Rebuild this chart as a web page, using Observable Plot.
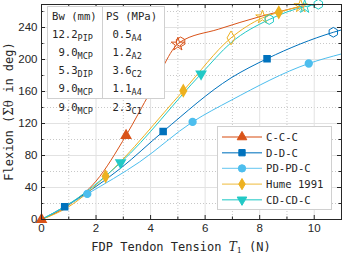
<!DOCTYPE html>
<html><head><meta charset="utf-8">
<script src="https://cdn.jsdelivr.net/npm/d3@7"></script>
<script src="https://cdn.jsdelivr.net/npm/@observablehq/plot@0.6"></script>
<style>body{margin:0;background:#fff}</style>
</head><body><div id="chart"></div>
<script>
// ---- data ----
const seriesNames = ["C-C-C", "D-D-C", "PD-PD-C", "Hume 1991", "CD-CD-C"];
const seriesColors = ["#D95319", "#0072BD", "#4DBEEE", "#EDB120", "#22C9C6"];
const seriesSymbols = ["triangle", "square", "circle", "diamond", "triangle"];
const seriesRotate = [0, 0, 0, 0, 180];

// curves
const cccX = [0, 1, 2, 3.1, 4, 5.05, 6.5, 8.05, 9.6];
const cccY = [0, 18, 48, 105, 160, 221, 238, 254, 267];
const ddcX = [0, 0.85, 2.9, 4.46, 6.95, 8.27, 10.7, 11];
const ddcY = [0, 16, 64, 110, 177, 201, 234, 237];
const pdX = [0, 1.68, 3.6, 5.54, 6.95, 9.8, 11];
const pdY = [0, 32, 72, 122, 149, 195, 207];
const humeX = [0, 1, 2.35, 5.2, 6.95, 8.1, 8.7, 9.55];
const humeY = [0, 16, 54, 161, 227, 252, 259, 267];
const cdX = [0, 0.85, 2.9, 5.85, 6.95, 8.35, 9.65, 10.15];
const cdY = [0, 16, 71, 182, 221, 250, 266, 269];

// filled markers
const cccMX = [0, 3.1], cccMY = [0, 105];
const ddcMX = [0.85, 4.46, 8.27], ddcMY = [16, 110, 201];
const pdMX = [1.68, 5.54, 9.8], pdMY = [32, 122, 195];
const humeMX = [2.35, 5.2, 8.7], humeMY = [54, 161, 259];
const cdMX = [2.9, 5.85], cdMY = [71, 182];

// open markers
const openSeries = ["C-C-C", "C-C-C", "D-D-C", "Hume 1991", "Hume 1991", "Hume 1991", "CD-CD-C", "CD-CD-C", "CD-CD-C"];
const openSymbol = ["star", "hexagon", "hexagon", "diamond", "star", "star", "hexagon", "star", "hexagon"];
const openX = [5.0, 5.1, 10.7, 6.95, 8.1, 9.5, 8.35, 9.65, 10.15];
const openY = [219, 222, 234, 227, 253, 267, 250, 266, 269];

// ticks
const xMajor = [0, 2, 4, 6, 8, 10];
const xMinor = [1, 3, 5, 7, 9];
const yMajor = [0, 40, 80, 120, 160, 200, 240];
const yMinor = [20, 60, 100, 140, 180, 220, 260];

// annotation table
const tblHead = ["Bw (mm)", "PS (MPa)"];
const bwVal = ["12.2", " 9.0", " 5.3", " 9.0", " 9.0"];
const bwSub = ["PIP", "MCP", "DIP", "MCP", "MCP"];
const psVal = [" 0.5", " 1.2", " 3.6", " 1.1", " 2.3"];
const psSub = ["A4", "A2", "C2", "A4", "C1"];

// ---- build tables ----
const curveXs = [cccX, ddcX, pdX, humeX, cdX], curveYs = [cccY, ddcY, pdY, humeY, cdY];
const lines = [];
curveXs.forEach((xs, i) => xs.forEach((x, j) => lines.push({s: seriesNames[i], x, y: curveYs[i][j]})));
const mxs = [cccMX, ddcMX, pdMX, humeMX, cdMX], mys = [cccMY, ddcMY, pdMY, humeMY, cdMY];
const marks = [];
mxs.forEach((xs, i) => xs.forEach((x, j) => marks.push({s: seriesNames[i], i, x, y: mys[i][j]})));
const opens = openX.map((x, k) => ({s: openSeries[k], sym: openSymbol[k], x, y: openY[k]}));

const W = 342, H = 254, mL = 41, mR = 1, mT = 4, mB = 35;
const pH = H - mT - mB;
const mono = "'DejaVu Sans Mono', monospace";
const sans = "'Liberation Sans', Arial, sans-serif";
const colorOf = s => seriesColors[seriesNames.indexOf(s)];

const chart = Plot.plot({
  width: W, height: H,
  marginLeft: mL, marginRight: mR, marginTop: mT, marginBottom: mB,
  x: {domain: [0, 11]},
  y: {domain: [0, 268.75]},
  style: {fontFamily: sans, fontSize: "11.5px", background: "#fff", color: "#262626"},
  marks: [
    Plot.ruleX(xMinor, {stroke: "#c8c8c8", strokeDasharray: "1,2"}),
    Plot.ruleY(yMinor, {stroke: "#c8c8c8", strokeDasharray: "1,2"}),
    Plot.ruleX(xMajor, {stroke: "#e2e2e2"}),
    Plot.ruleY(yMajor, {stroke: "#e2e2e2"}),
    Plot.line(lines, {x: "x", y: "y", z: "s", stroke: d => colorOf(d.s), strokeWidth: 1, curve: "monotone-x"}),
    Plot.dot(opens, {x: "x", y: "y", symbol: d => d.sym, r: 4.2, stroke: d => colorOf(d.s), fill: "white", fillOpacity: 0, strokeWidth: 1}),
    Plot.dot(marks, {x: "x", y: "y", symbol: d => seriesSymbols[d.i], rotate: d => seriesRotate[d.i], r: 3.4, fill: d => colorOf(d.s), stroke: d => colorOf(d.s)}),
    // inward ticks
    Plot.tickX(xMajor, {x: d => d, insetTop: pH - 4, stroke: "#262626"}),
    Plot.tickX(xMajor, {x: d => d, insetBottom: pH - 4, stroke: "#262626"}),
    Plot.tickX(xMinor, {x: d => d, insetTop: pH - 2.5, stroke: "#262626"}),
    Plot.tickX(xMinor, {x: d => d, insetBottom: pH - 2.5, stroke: "#262626"}),
    Plot.tickY(yMajor, {y: d => d, insetRight: (W - mL - mR) - 4, stroke: "#262626"}),
    Plot.tickY(yMajor, {y: d => d, insetLeft: (W - mL - mR) - 4, stroke: "#262626"}),
    Plot.tickY(yMinor, {y: d => d, insetRight: (W - mL - mR) - 2.5, stroke: "#262626"}),
    Plot.tickY(yMinor, {y: d => d, insetLeft: (W - mL - mR) - 2.5, stroke: "#262626"}),
    Plot.frame({stroke: "#262626"}),
    Plot.axisX(xMajor, {tickSize: 0, tickPadding: 4, label: null, fontSize: 11.5}),
    Plot.axisY(yMajor, {tickSize: 0, tickPadding: 4, label: null, fontSize: 11.5})
  ]
});
document.getElementById("chart").appendChild(chart);

const svg = d3.select(chart);
// axis labels
const xl = svg.append("text").attr("x", 181).attr("y", 251).attr("text-anchor", "middle")
  .style("font-family", mono).style("font-size", "12px").attr("fill", "#262626");
xl.append("tspan").text("FDP Tendon Tension ");
xl.append("tspan").text("T").style("font-family", "'DejaVu Serif', serif").style("font-style", "italic");
xl.append("tspan").text("1").style("font-family", "'DejaVu Serif', serif").style("font-size", "8px").attr("dy", 2);
xl.append("tspan").text(" (N)").attr("dy", -2);

const yl = svg.append("text").attr("transform", `translate(13,${mT + pH / 2}) rotate(-90)`).attr("text-anchor", "middle")
  .style("font-family", mono).style("font-size", "12px").attr("fill", "#262626");
yl.append("tspan").text("Flexion (");
yl.append("tspan").text("Σθ").style("font-family", "'DejaVu Serif', serif");
yl.append("tspan").text(" in deg)");

// annotation boxes
const tb = svg.append("g").attr("text-anchor", "start").style("font-family", mono).style("font-size", "10.6px").attr("fill", "#262626").style("white-space", "pre");
tb.append("rect").attr("x", 47.5).attr("y", 6.5).attr("width", 55).attr("height", 92).attr("fill", "white").attr("stroke", "#d0d0d0");
tb.append("rect").attr("x", 102.5).attr("y", 6.5).attr("width", 62).attr("height", 92).attr("fill", "white").attr("stroke", "#d0d0d0");
tb.append("text").attr("x", 52).attr("y", 20).text(tblHead[0]);
tb.append("text").attr("x", 106).attr("y", 20).text(tblHead[1]);
bwVal.forEach((v, k) => {
  const yb = 37.5 + k * 18.3;
  const t = tb.append("text").attr("x", 52).attr("y", yb);
  t.append("tspan").text(v);
  t.append("tspan").text(bwSub[k]).attr("dy", 3).style("font-size", "8.5px");
  const t2 = tb.append("text").attr("x", 106).attr("y", yb);
  t2.append("tspan").text(psVal[k]);
  t2.append("tspan").text(psSub[k]).attr("dy", 3).style("font-size", "8.5px");
});

// legend
const lg = svg.append("g").attr("text-anchor", "start").style("font-family", mono).style("font-size", "10.6px").attr("fill", "#262626");
lg.append("rect").attr("x", 217.5).attr("y", 126.5).attr("width", 114).attr("height", 83).attr("fill", "white").attr("stroke", "#d0d0d0");
seriesNames.forEach((s, i) => {
  const yy = 137 + i * 15.7;
  lg.append("line").attr("x1", 222).attr("x2", 262).attr("y1", yy).attr("y2", yy).attr("stroke", seriesColors[i]).attr("stroke-width", 1.4).attr("stroke-opacity", 0.7);
  const sym = {triangle: d3.symbolTriangle, square: d3.symbolSquare, circle: d3.symbolCircle, diamond: d3.symbolDiamond}[seriesSymbols[i]];
  const size = {triangle: 40, square: 40, circle: 42, diamond: 36}[seriesSymbols[i]];
  lg.append("path").attr("d", d3.symbol(sym, size)()).attr("transform", `translate(242,${yy}) rotate(${seriesRotate[i]})`).attr("fill", seriesColors[i]).attr("stroke", seriesColors[i]);
  lg.append("text").attr("x", 266).attr("y", yy + 3.8).text(s);
});
</script>
</body></html>
